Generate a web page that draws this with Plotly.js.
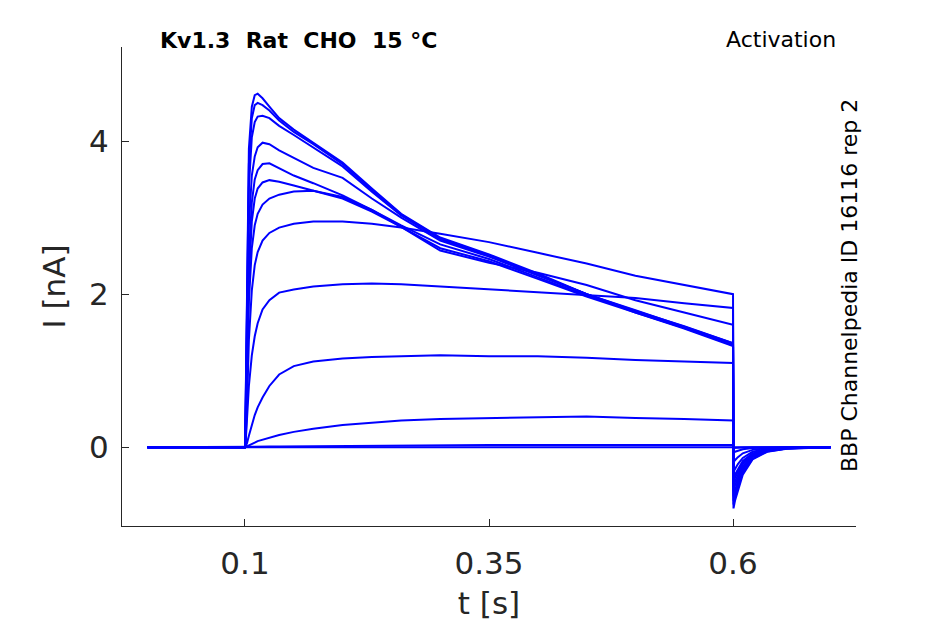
<!DOCTYPE html>
<html>
<head>
<meta charset="utf-8">
<script src="https://cdn.plot.ly/plotly-3.0.1.min.js"></script>
<style>
	body { margin: 0; background: #ffffff; }
	#chartDiv { width: 945px; height: 624px; }
</style>
</head>
<body>
<div id="chartDiv"></div>
<script>
// sample times [s], shared by every sweep (step from 0.1 to 0.6, then tail)
var timeValues = [0, 0.1, 0.1005, 0.102, 0.104, 0.107, 0.11, 0.113, 0.118, 0.125, 0.135, 0.15, 0.17,
	0.2, 0.23, 0.26, 0.3, 0.35, 0.4, 0.45, 0.5, 0.55, 0.6,
	0.6005, 0.602, 0.605, 0.61, 0.62, 0.635, 0.655, 0.68, 0.7];

// current [nA] of each sweep
var sweep1 = [0, 0, 0.4, 2.2, 3.9, 4.45, 4.6, 4.62, 4.56, 4.45, 4.3, 4.15, 3.98,
	3.72, 3.38, 3.05, 2.74, 2.52, 2.27, 2.0, 1.76, 1.55, 1.32,
	-0.8, -0.7, -0.56, -0.36, -0.16, -0.06, -0.02, -0.005, 0];
var sweep2 = [0, 0, 0.35, 2.0, 3.7, 4.3, 4.47, 4.5, 4.47, 4.4, 4.27, 4.12, 3.96,
	3.7, 3.36, 3.04, 2.73, 2.51, 2.26, 2.0, 1.77, 1.56, 1.33,
	-0.75, -0.66, -0.52, -0.33, -0.15, -0.055, -0.018, -0.005, 0];
var sweep3 = [0, 0, 0.3, 1.8, 3.4, 4.05, 4.25, 4.32, 4.33, 4.3, 4.2, 4.08, 3.92,
	3.67, 3.34, 3.03, 2.72, 2.5, 2.25, 2.0, 1.78, 1.57, 1.35,
	-0.7, -0.61, -0.48, -0.3, -0.13, -0.05, -0.016, -0.004, 0];
var sweep4 = [0, 0, 0.25, 1.5, 2.9, 3.55, 3.8, 3.92, 3.98, 3.96, 3.88, 3.78, 3.65,
	3.52, 3.25, 3.0, 2.7, 2.49, 2.24, 2.0, 1.79, 1.58, 1.36,
	-0.64, -0.56, -0.44, -0.27, -0.12, -0.045, -0.014, -0.004, 0];
var sweep5 = [0, 0, 0.2, 1.2, 2.5, 3.2, 3.5, 3.62, 3.7, 3.71, 3.65, 3.55, 3.45,
	3.29, 3.1, 2.9, 2.65, 2.46, 2.22, 1.98, 1.78, 1.58, 1.36,
	-0.58, -0.5, -0.4, -0.25, -0.11, -0.04, -0.013, -0.003, 0];
var sweep6 = [0, 0, 0.15, 1.0, 2.2, 2.95, 3.25, 3.38, 3.46, 3.49, 3.47, 3.42, 3.35,
	3.25, 3.08, 2.88, 2.6, 2.43, 2.2, 1.97, 1.76, 1.56, 1.34,
	-0.52, -0.45, -0.36, -0.22, -0.1, -0.036, -0.012, -0.003, 0];
var sweep7 = [0, 0, 0.1, 0.8, 1.9, 2.6, 2.9, 3.05, 3.17, 3.25, 3.3, 3.34, 3.35,
	3.27, 3.1, 2.88, 2.57, 2.41, 2.28, 2.12, 1.92, 1.76, 1.6,
	-0.47, -0.4, -0.32, -0.2, -0.09, -0.032, -0.01, -0.003, 0];
var sweep8 = [0, 0, 0.05, 0.5, 1.4, 2.05, 2.38, 2.55, 2.7, 2.8, 2.87, 2.92, 2.95,
	2.95, 2.92, 2.87, 2.79, 2.68, 2.54, 2.4, 2.24, 2.12, 2.0,
	-0.42, -0.36, -0.29, -0.18, -0.08, -0.028, -0.009, -0.002, 0];
var sweep9 = [0, 0, 0.02, 0.3, 0.8, 1.2, 1.45, 1.62, 1.8, 1.92, 2.02, 2.06, 2.1,
	2.13, 2.14, 2.13, 2.1, 2.06, 2.02, 1.99, 1.95, 1.88, 1.82,
	-0.32, -0.28, -0.22, -0.14, -0.06, -0.022, -0.007, -0.002, 0];
var sweep10 = [0, 0, 0.01, 0.05, 0.15, 0.3, 0.42, 0.52, 0.65, 0.8, 0.95, 1.06, 1.12,
	1.16, 1.18, 1.19, 1.2, 1.19, 1.19, 1.17, 1.14, 1.12, 1.1,
	-0.2, -0.17, -0.13, -0.08, -0.035, -0.013, -0.004, -0.001, 0];
var sweep11 = [0, 0, 0, 0.01, 0.02, 0.04, 0.06, 0.08, 0.1, 0.13, 0.16, 0.2, 0.24,
	0.29, 0.32, 0.35, 0.37, 0.38, 0.39, 0.4, 0.38, 0.37, 0.35,
	-0.07, -0.06, -0.045, -0.028, -0.012, -0.004, -0.001, 0, 0];
var sweep12 = [0, 0, 0, 0, 0, 0, 0.002, 0.004, 0.006, 0.008, 0.01, 0.012, 0.015,
	0.02, 0.022, 0.025, 0.028, 0.03, 0.03, 0.032, 0.03, 0.03, 0.03,
	-0.01, -0.008, -0.006, -0.004, -0.002, 0, 0, 0, 0];
var sweep13 = [0, 0, 0, 0, 0, 0, 0, 0, 0, 0, 0, 0, 0,
	0, 0, 0, 0, 0, 0, 0, 0, 0, 0,
	0, 0, 0, 0, 0, 0, 0, 0, 0];

var sweeps = [sweep1, sweep2, sweep3, sweep4, sweep5, sweep6, sweep7,
	sweep8, sweep9, sweep10, sweep11, sweep12, sweep13];

var xTickValues = [0.1, 0.35, 0.6];
var xTickLabels = ["0.1", "0.35", "0.6"];
var yTickValues = [0, 2, 4];
var yTickLabels = ["0", "2", "4"];

var axisColor = "#262626";
var fontName = "DejaVu Sans, sans-serif";

var data = [];
for (let i = 0; i < sweeps.length; i++) {
	data.push({
		x: timeValues,
		y: sweeps[i],
		type: "scatter",
		mode: "lines",
		line: {color: "#0000ff", width: 2},
		hoverinfo: "skip",
		showlegend: false
	});
}

var nb = "\u00a0\u00a0";

var layout = {
	width: 945,
	height: 624,
	margin: {l: 122, r: 89, t: 47, b: 98},
	paper_bgcolor: "#ffffff",
	plot_bgcolor: "#ffffff",
	font: {family: fontName, color: axisColor},
	showlegend: false,
	xaxis: {
		range: [-0.026, 0.726],
		tickvals: xTickValues,
		ticktext: xTickLabels,
		ticks: "inside",
		ticklen: 7,
		tickcolor: axisColor,
		tickfont: {size: 31, color: axisColor},
		ticklabelstandoff: 10,
		showline: true,
		linecolor: axisColor,
		linewidth: 1,
		showgrid: false,
		zeroline: false,
		title: {text: "t [s]", font: {size: 31, color: axisColor}, standoff: 12}
	},
	yaxis: {
		range: [-1.03, 5.23],
		tickvals: yTickValues,
		ticktext: yTickLabels,
		ticks: "inside",
		ticklen: 7,
		tickcolor: axisColor,
		tickfont: {size: 31, color: axisColor},
		ticklabelstandoff: 6,
		showline: true,
		linecolor: axisColor,
		linewidth: 1,
		showgrid: false,
		zeroline: false,
		title: {text: "I [nA]", font: {size: 31, color: axisColor}, standoff: 14}
	},
	annotations: [
		{
			text: "<b>Kv1.3" + nb + "Rat" + nb + "CHO" + nb + "15 °C</b>",
			xref: "paper", yref: "paper",
			x: 0.049, y: 1.0146,
			xanchor: "left", yanchor: "middle",
			showarrow: false,
			font: {size: 22, color: "#000000"}
		},
		{
			text: "Activation",
			xref: "paper", yref: "paper",
			x: 0.9755, y: 1.0167,
			xanchor: "right", yanchor: "middle",
			showarrow: false,
			font: {size: 22, color: "#000000"}
		},
		{
			text: "BBP Channelpedia ID 16116 rep 2",
			xref: "paper", yref: "paper",
			x: 0.9905, y: 0.501,
			xanchor: "center", yanchor: "middle",
			textangle: -90,
			showarrow: false,
			font: {size: 22, color: "#000000"}
		}
	]
};

Plotly.newPlot("chartDiv", data, layout, {staticPlot: true});
</script>
</body>
</html>
